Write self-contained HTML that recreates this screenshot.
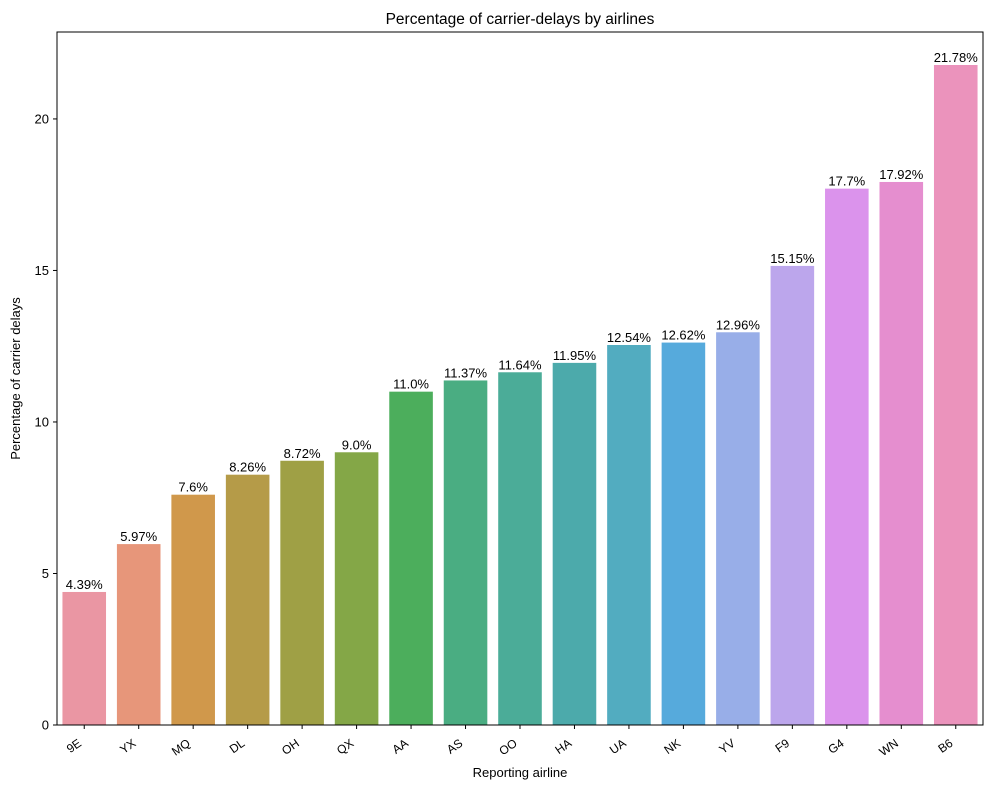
<!DOCTYPE html>
<html><head><meta charset="utf-8"><style>
body{margin:0;background:#fff;font-family:"Liberation Sans",sans-serif;}
svg text{font-family:"Liberation Sans",sans-serif;fill:#000;}
</style></head><body>
<svg id="chart" width="989" height="790"></svg>
<script>
const categories=["9E","YX","MQ","DL","OH","QX","AA","AS","OO","HA","UA","NK","YV","F9","G4","WN","B6"];
const values=[4.39,5.97,7.6,8.26,8.72,9.0,11.0,11.37,11.64,11.95,12.54,12.62,12.96,15.15,17.7,17.92,21.78];
const valueLabels=["4.39%","5.97%","7.6%","8.26%","8.72%","9.0%","11.0%","11.37%","11.64%","11.95%","12.54%","12.62%","12.96%","15.15%","17.7%","17.92%","21.78%"];
const yTicks=[0,5,10,15,20];
const colors=["#ea96a3","#e7967a","#d0984b","#b59b48","#9fa045","#84a747","#4cae5c","#4aad82","#4bac98","#4caaab","#52acc0","#56aadc","#98aee8","#bca6ec","#db93ec","#e58ecf","#eb93bc"];
const svg=document.getElementById('chart');
const NS="http://www.w3.org/2000/svg";
const L=57,R=983,T=32,B=725;
const ymax=Math.max(...values)*1.05;
const y=v=>B-(v/ymax)*(B-T);
const band=(R-L)/categories.length;
const x=i=>L+band*i;
function mk(tag,attrs,txt){const e=document.createElementNS(NS,tag);for(const k in attrs)e.setAttribute(k,attrs[k]);if(txt!==undefined)e.textContent=txt;svg.appendChild(e);return e;}
values.forEach((v,i)=>{
 const bx=x(i)+band*0.1,bw=band*0.8;
 const r=mk('rect',{x:bx,y:y(v),width:bw,height:B-y(v),fill:colors[i]});
 
 
 const t=mk('text',{x:bx+bw/2,y:y(v)-3,'text-anchor':'middle','font-size':13},valueLabels[i]);
 
 
 const cx=x(i)+band/2;
 mk('line',{x1:cx,x2:cx,y1:B,y2:B+4,stroke:'#000'});
 const ax=cx-2,ay=B+20;
 const tl=mk('text',{x:ax,y:ay,'text-anchor':'end','font-size':12,transform:`rotate(-35 ${ax} ${ay})`},categories[i]);
 
 
});
yTicks.forEach(t=>{
 mk('line',{x1:L-4,x2:L,y1:y(t),y2:y(t),stroke:'#000'});
 const tt=mk('text',{x:L-8,y:y(t)+4.5,'text-anchor':'end','font-size':13},String(t));
 
 
});
const f=mk('rect',{x:L,y:T,width:R-L,height:B-T,fill:'none',stroke:'#000','stroke-width':1});


const ti=mk('text',{x:(L+R)/2,y:T-8,'text-anchor':'middle','font-size':15.5},'Percentage of carrier-delays by airlines');


const xt=mk('text',{x:(L+R)/2,y:777,'text-anchor':'middle','font-size':13},'Reporting airline');


const yt=mk('text',{x:20,y:(T+B)/2,'text-anchor':'middle','font-size':13,transform:`rotate(-90 20 ${(T+B)/2})`},'Percentage of carrier delays');


</script>
</body></html>
